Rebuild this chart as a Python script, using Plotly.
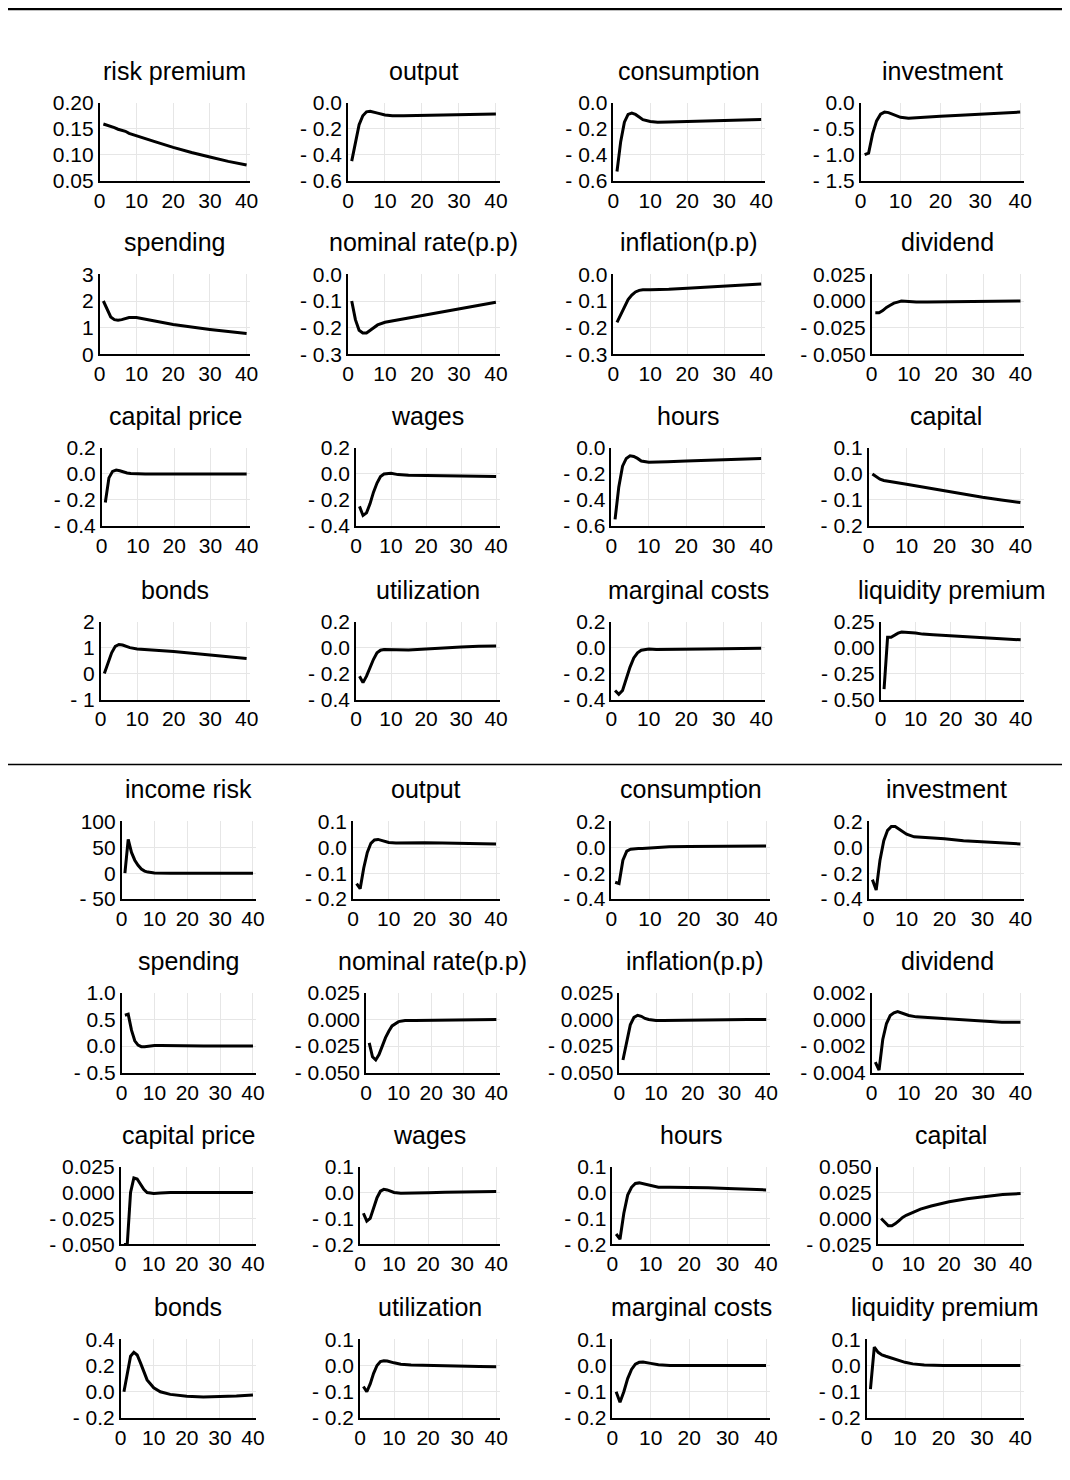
import numpy as np
import plotly.graph_objects as go

W, H = 1070, 1480

x = [1, 2, 3, 4, 5, 6, 7, 8, 10, 12, 15, 20, 25, 30, 35, 40]

titles_top = ["risk premium", "output", "consumption", "investment",
              "spending", "nominal rate(p.p)", "inflation(p.p)", "dividend",
              "capital price", "wages", "hours", "capital",
              "bonds", "utilization", "marginal costs", "liquidity premium"]
titles_bot = ["income risk", "output", "consumption", "investment",
              "spending", "nominal rate(p.p)", "inflation(p.p)", "dividend",
              "capital price", "wages", "hours", "capital",
              "bonds", "utilization", "marginal costs", "liquidity premium"]

top_series = [
    [0.159, 0.157, 0.154, 0.152, 0.149, 0.147, 0.145, 0.141, 0.136, 0.131, 0.125, 0.114, 0.104, 0.0955, 0.087, 0.080],
    [-0.45, -0.30, -0.17, -0.10, -0.07, -0.065, -0.07, -0.08, -0.095, -0.10, -0.10, -0.098, -0.095, -0.093, -0.09, -0.087],
    [-0.53, -0.30, -0.15, -0.09, -0.08, -0.09, -0.11, -0.13, -0.145, -0.15, -0.148, -0.145, -0.14, -0.137, -0.133, -0.13],
    [-1.0, -0.97, -0.6, -0.35, -0.22, -0.18, -0.19, -0.22, -0.28, -0.30, -0.29, -0.26, -0.24, -0.22, -0.20, -0.18],
    [2.0, 1.7, 1.4, 1.3, 1.28, 1.3, 1.35, 1.38, 1.38, 1.32, 1.25, 1.12, 1.02, 0.93, 0.85, 0.78],
    [-0.10, -0.17, -0.21, -0.22, -0.22, -0.21, -0.20, -0.19, -0.18, -0.175, -0.167, -0.153, -0.14, -0.128, -0.116, -0.105],
    [-0.18, -0.15, -0.12, -0.095, -0.078, -0.066, -0.06, -0.058, -0.058, -0.058, -0.056, -0.052, -0.048, -0.044, -0.04, -0.036],
    [-0.011, -0.011, -0.009, -0.006, -0.004, -0.002, -0.001, 0.0, -0.0005, -0.001, -0.001, -0.0008, -0.0005, -0.0003, -0.0001, 0.0],
    [-0.22, -0.03, 0.02, 0.03, 0.025, 0.015, 0.008, 0.003, 0.0, 0.0, 0.0, 0.0, 0.0, 0.0, 0.0, 0.0],
    [-0.25, -0.32, -0.30, -0.23, -0.14, -0.07, -0.02, 0.0, 0.005, -0.005, -0.01, -0.012, -0.015, -0.017, -0.019, -0.02],
    [-0.55, -0.30, -0.14, -0.08, -0.06, -0.065, -0.08, -0.10, -0.11, -0.11, -0.105, -0.10, -0.095, -0.09, -0.085, -0.08],
    [0.0, -0.01, -0.02, -0.025, -0.028, -0.03, -0.032, -0.035, -0.04, -0.045, -0.052, -0.065, -0.078, -0.09, -0.10, -0.11],
    [0.0, 0.4, 0.8, 1.05, 1.12, 1.1, 1.05, 1.0, 0.95, 0.92, 0.9, 0.85, 0.78, 0.72, 0.65, 0.58],
    [-0.22, -0.27, -0.22, -0.15, -0.09, -0.04, -0.02, -0.015, -0.015, -0.02, -0.018, -0.01, 0.0, 0.005, 0.01, 0.013],
    [-0.33, -0.36, -0.33, -0.24, -0.15, -0.08, -0.04, -0.02, -0.01, -0.015, -0.015, -0.013, -0.01, -0.008, -0.006, -0.005],
    [-0.40, 0.10, 0.10, 0.12, 0.14, 0.15, 0.15, 0.145, 0.14, 0.13, 0.125, 0.115, 0.105, 0.095, 0.085, 0.075],
]

bot_series = [
    [0, 65, 40, 25, 15, 8, 4, 2, 0.5, 0, 0, 0, 0, 0, 0, 0],
    [-0.14, -0.16, -0.08, -0.02, 0.015, 0.028, 0.03, 0.025, 0.018, 0.016, 0.017, 0.017, 0.016, 0.015, 0.013, 0.012],
    [-0.27, -0.28, -0.10, -0.03, -0.015, -0.01, -0.01, -0.01, -0.005, 0.0, 0.003, 0.006, 0.008, 0.009, 0.01, 0.01],
    [-0.25, -0.33, -0.10, 0.05, 0.13, 0.16, 0.16, 0.14, 0.10, 0.08, 0.075, 0.065, 0.05, 0.04, 0.03, 0.025],
    [0.58, 0.60, 0.30, 0.10, 0.02, -0.01, -0.01, 0.0, 0.01, 0.01, 0.005, 0.0, 0.0, 0.0, 0.0, 0.0],
    [-0.022, -0.035, -0.038, -0.033, -0.025, -0.017, -0.011, -0.006, -0.002, -0.001, -0.001, -0.0007, -0.0004, -0.0002, -0.0001, 0.0],
    [-0.038, -0.02, -0.005, 0.002, 0.004, 0.003, 0.001, 0.0, -0.001, -0.001, -0.0008, -0.0006, -0.0004, -0.0002, -0.0001, 0.0],
    [-0.0032, -0.0038, -0.0015, -0.0003, 0.0003, 0.0005, 0.0006, 0.0005, 0.0003, 0.0002, 0.00015, 0.0001, 0.0, -0.0001, -0.0002, -0.0002],
    [-0.05, -0.05, 0.0, 0.014, 0.013, 0.008, 0.003, 0.0, -0.001, -0.0005, 0.0, 0.0, 0.0, 0.0, 0.0, 0.0],
    [-0.08, -0.11, -0.10, -0.06, -0.02, 0.005, 0.012, 0.01, 0.0, -0.003, -0.003, -0.001, 0.001, 0.002, 0.003, 0.004],
    [-0.16, -0.18, -0.08, -0.01, 0.02, 0.035, 0.037, 0.033, 0.025, 0.02, 0.02, 0.02, 0.018, 0.015, 0.012, 0.01],
    [0.0, -0.004, -0.007, -0.007, -0.005, -0.002, 0.001, 0.003, 0.006, 0.009, 0.012, 0.016, 0.019, 0.021, 0.023, 0.024],
    [0.0, 0.15, 0.27, 0.30, 0.28, 0.22, 0.15, 0.09, 0.03, 0.0, -0.02, -0.035, -0.04, -0.038, -0.032, -0.025],
    [-0.08, -0.10, -0.07, -0.03, 0.0, 0.015, 0.018, 0.017, 0.01, 0.005, 0.002, 0.0, -0.002, -0.003, -0.004, -0.005],
    [-0.10, -0.14, -0.10, -0.05, -0.015, 0.005, 0.012, 0.013, 0.008, 0.003, 0.0, 0.0, 0.0, 0.0, 0.0, 0.0],
    [-0.09, 0.07, 0.05, 0.04, 0.035, 0.03, 0.025, 0.02, 0.012, 0.006, 0.002, 0.0, 0.0, 0.0, 0.0, 0.0],
]

# y tick spec per panel: (low, high, step, decimals)
top_ticks = [(0.05, 0.20, 0.05, 2), (-0.6, 0.0, 0.2, 1), (-0.6, 0.0, 0.2, 1), (-1.5, 0.0, 0.5, 1),
             (0, 3, 1, 0), (-0.3, 0.0, 0.1, 1), (-0.3, 0.0, 0.1, 1), (-0.05, 0.025, 0.025, 3),
             (-0.4, 0.2, 0.2, 1), (-0.4, 0.2, 0.2, 1), (-0.6, 0.0, 0.2, 1), (-0.2, 0.1, 0.1, 1),
             (-1, 2, 1, 0), (-0.4, 0.2, 0.2, 1), (-0.4, 0.2, 0.2, 1), (-0.5, 0.25, 0.25, 2)]
bot_ticks = [(-50, 100, 50, 0), (-0.2, 0.1, 0.1, 1), (-0.4, 0.2, 0.2, 1), (-0.4, 0.2, 0.2, 1),
             (-0.5, 1.0, 0.5, 1), (-0.05, 0.025, 0.025, 3), (-0.05, 0.025, 0.025, 3), (-0.004, 0.002, 0.002, 3),
             (-0.05, 0.025, 0.025, 3), (-0.2, 0.1, 0.1, 1), (-0.2, 0.1, 0.1, 1), (-0.025, 0.05, 0.025, 3),
             (-0.2, 0.4, 0.2, 1), (-0.2, 0.1, 0.1, 1), (-0.2, 0.1, 0.1, 1), (-0.2, 0.1, 0.1, 1)]

# plot-area geometry in reference pixels
top_left = [99, 348, 614, 862, 99, 348, 614, 873, 101, 356, 612, 870, 100, 356, 612, 882]
bot_left = [121, 353, 612, 870, 121, 366, 620, 873, 120, 360, 613, 879, 120, 360, 613, 868]
top_right = [250, 500, 766, 1026]
bot_right = [256, 500, 771, 1026]
top_rows = [(100, 178), (272, 352), (446, 524), (620, 698)]
bot_rows = [(820, 898), (992, 1072), (1166, 1244), (1339, 1418)]


# the page lands slightly shifted/shrunk in the screenshot; map reference px -> figure px
def px(v):
    return (v - 20) / 0.9896 + 7


def py(v):
    return (v - 23) / 0.9865 + 6


def fmt(v, d):
    s = f"{abs(v):.{d}f}"
    return ("- " + s) if v < -1e-12 else s


fig = go.Figure()
layout = {}
annotations = []
panels = []
for i in range(16):
    panels.append((titles_top[i], top_series[i], top_ticks[i], top_left[i], top_right[i % 4], top_rows[i // 4]))
for i in range(16):
    panels.append((titles_bot[i], bot_series[i], bot_ticks[i], bot_left[i], bot_right[i % 4], bot_rows[i // 4]))

for k, (title, ys, (lo, hi, st, d), l, r, (t, b)) in enumerate(panels):
    n = k + 1
    xa, ya = f"xaxis{n}", f"yaxis{n}"
    fig.add_trace(go.Scatter(x=x, y=ys, mode="lines", line=dict(color="black", width=3),
                             xaxis=f"x{n}", yaxis=f"y{n}", showlegend=False, hoverinfo="skip"))
    tv = np.round(np.arange(lo, hi + st / 2, st), 6)
    layout[xa] = dict(domain=[px(l) / W, px(r) / W], anchor=f"y{n}", range=[0, 41],
                      tickvals=[0, 10, 20, 30, 40], showline=True, linecolor="black", linewidth=1.5,
                      showgrid=True, gridcolor="#e6e6e6", zeroline=False, ticks="", ticklen=0,
                      tickfont=dict(size=21, color="black"))
    layout[ya] = dict(domain=[1 - py(b) / H, 1 - py(t) / H], anchor=f"x{n}", range=[lo, hi],
                      tickvals=list(tv), ticktext=[fmt(v, d) for v in tv],
                      showline=True, linecolor="black", linewidth=1.5,
                      showgrid=True, gridcolor="#e6e6e6", zeroline=False, ticks="",
                      tickfont=dict(size=21, color="black"))
    annotations.append(dict(text=title, x=px((l + r) / 2) / W, y=1 - py(t - 32) / H,
                            xref="paper", yref="paper", xanchor="center", yanchor="middle",
                            showarrow=False, font=dict(size=25, color="black")))

fig.update_layout(
    width=W, height=H, margin=dict(l=0, r=0, t=0, b=0),
    paper_bgcolor="white", plot_bgcolor="white",
    font=dict(family="Liberation Sans, Arial, sans-serif", color="black"),
    annotations=annotations,
    shapes=[
        dict(type="line", xref="paper", yref="paper", x0=px(7) / W, x1=1, y0=1 - py(6) / H, y1=1 - py(6) / H,
             line=dict(color="black", width=2.5)),
        dict(type="line", xref="paper", yref="paper", x0=px(7) / W, x1=1, y0=1 - py(763) / H, y1=1 - py(763) / H,
             line=dict(color="black", width=1.5)),
    ],
    **layout
)

fig.write_html("out.html")
